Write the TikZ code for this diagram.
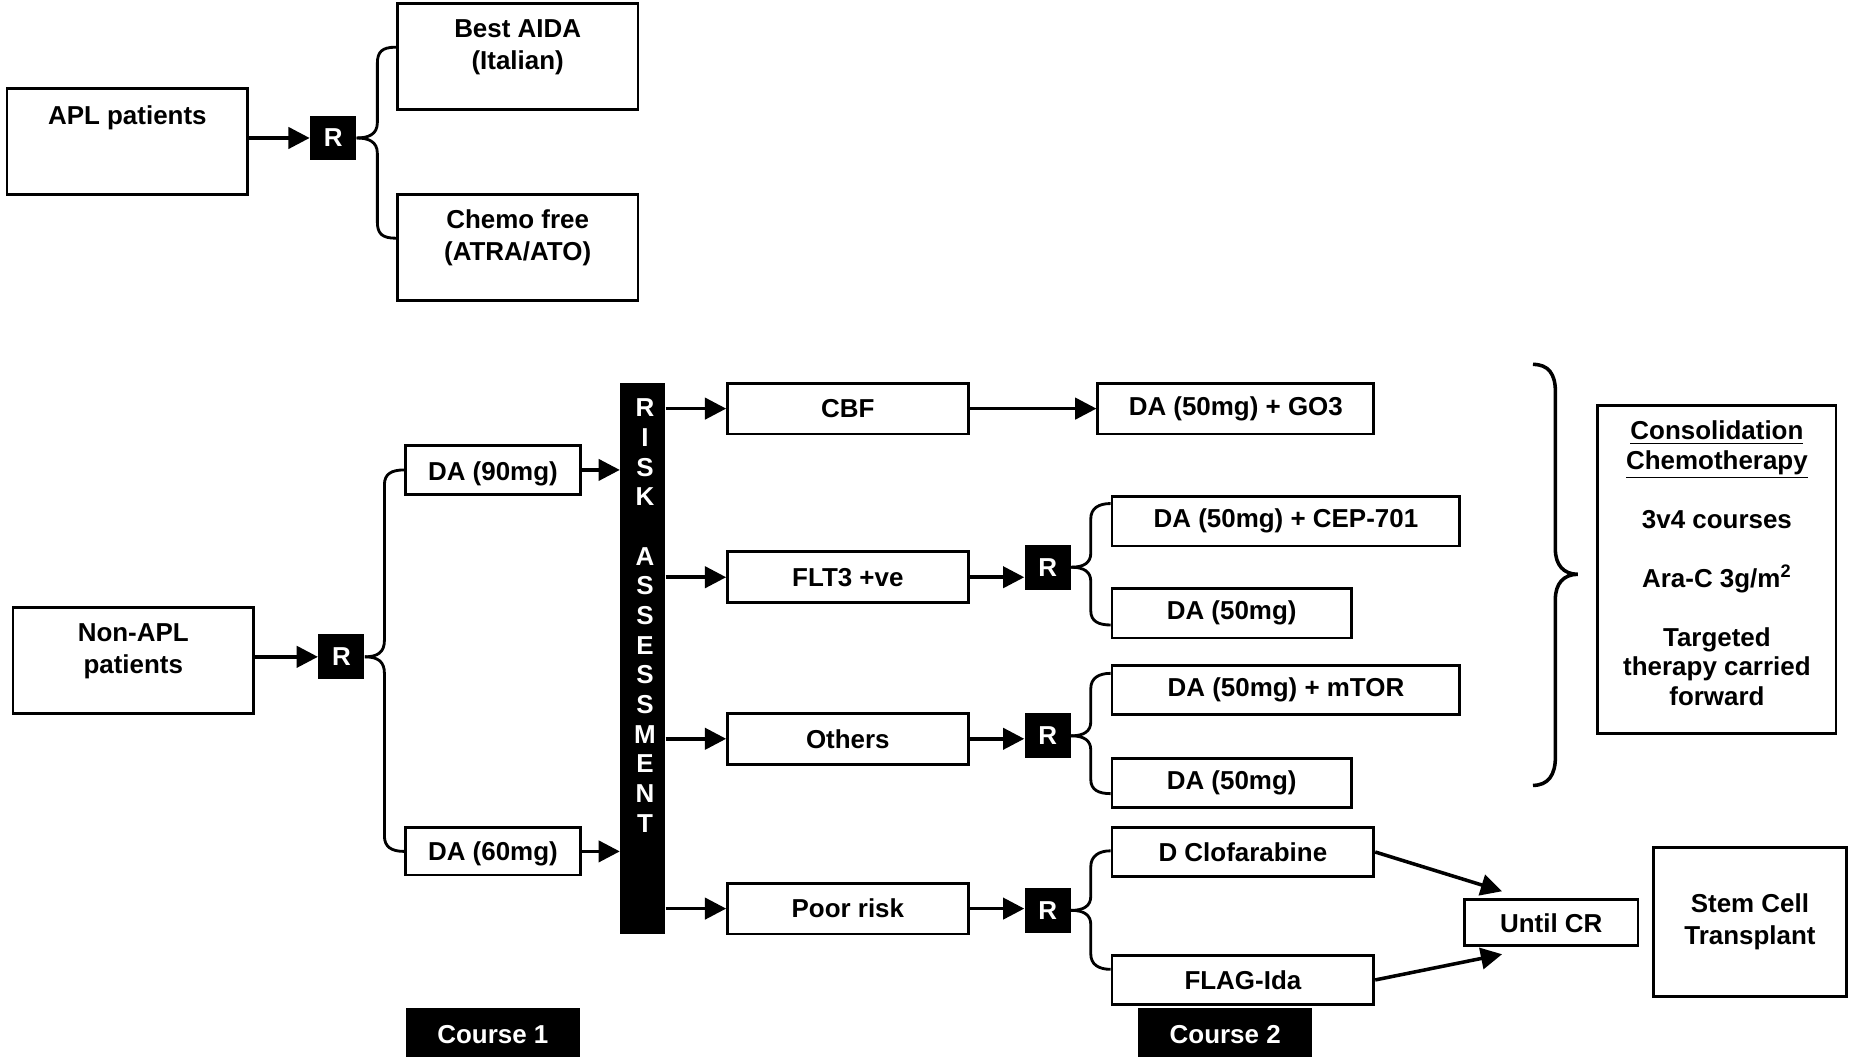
\documentclass[tikz,border=0pt]{standalone}
\usepackage{fontspec}
\setmainfont{Liberation Sans}
\usetikzlibrary{arrows.meta,calc}
\begin{document}
\begin{tikzpicture}[x=0.5pt,y=-0.5pt,
  every node/.append style={font=\fontsize{11}{13.5}\selectfont\bfseries},
  box/.style 2 args={draw,line width=1.2pt,minimum width=#1*0.5pt,minimum height=#2*0.5pt,inner sep=0pt,align=center},
  rbox/.style={fill=black,text=white,minimum width=19.5pt,minimum height=19pt,inner sep=0pt},
  blk/.style 2 args={fill=black,text=white,minimum width=#1*0.5pt,minimum height=#2*0.5pt,inner sep=0pt,align=center},
  arr/.style={line width=1.5pt,-{Triangle[length=9pt,width=9pt]}},
  conn/.style={line width=1.2pt}
]
\fill[white] (0,0) rectangle (1568,896);
\useasboundingbox (0,0) rectangle (1568,896);

% ---------- APL part ----------
\node[box={204}{90},label={[yshift=10pt]center:APL patients}] (apl) at (108,120) {};
\node[rbox] (r1) at (282.5,117) {R};
\node[box={204}{90},label={[yshift=4pt,align=center]center:Best AIDA\\(Italian)}] (ba) at (439,48) {};
\node[box={204}{90},label={[yshift=4.25pt,align=center]center:Chemo free\\(ATRA/ATO)}] (cf) at (439,210) {};

\draw[arr] (apl.east |- r1.west) -- (r1.west);
\draw[conn] (r1.east) .. controls +(10,0) and +(0,10) .. (320,104) -- (320,54)
  .. controls +(0,-10) and +(-12,0) .. ($(ba.west)+(0,-8)$);
\draw[conn] (r1.east) .. controls +(10,0) and +(0,-10) .. (320,130) -- (320,188)
  .. controls +(0,10) and +(-12,0) .. ($(cf.west)+(0,-8)$);

% ---------- Non-APL part ----------
\node[box={204}{90},label={[yshift=4pt,align=center]center:Non-APL\\patients}] (napl) at (113,560) {};
\node[rbox] (r2) at (289.5,557) {R};
\node[box={148}{41},label={[yshift=-1.5pt]center:DA (90mg)}] (da90) at (418,398.5) {};
\node[box={148}{40},label={[yshift=-1pt]center:DA (60mg)}] (da60) at (418,722) {};

\draw[arr] (napl.east |- r2.west) -- (r2.west);
\draw[conn] (r2.east) .. controls +(11,0) and +(0,10) .. (326,543) -- (326,411)
  .. controls +(0,-9) and +(-11,0) .. (da90.west);
\draw[conn] (r2.east) .. controls +(11,0) and +(0,-10) .. (326,571) -- (326,709)
  .. controls +(0,9) and +(-11,0) .. (da60.west);

% risk assessment bar
\node[fill=black,minimum width=19pt,minimum height=233.5pt,inner sep=0pt,
  label={[yshift=18.25pt,xshift=1pt,align=center,text=white,font=\fontsize{11}{12.57}\selectfont\bfseries]center:R\\I\\S\\K\\[12.57pt]A\\S\\S\\E\\S\\S\\M\\E\\N\\T}] (bar) at (545,558.5) {};

\draw[arr] (da90.east) -- (da90.east -| bar.west);
\draw[arr] (da60.east) -- (da60.east -| bar.west);

% risk groups
\node[box={204}{43}] (cbf) at (719,346.5) {CBF};
\node[box={204}{43}] (flt) at (719,489.5) {FLT3 +ve};
\node[box={204}{43}] (oth) at (719,626.5) {Others};
\node[box={204}{43}] (poor) at (719,770.5) {Poor risk};

\draw[arr] (bar.east |- cbf.west) -- (cbf.west);
\draw[arr] (bar.east |- flt.west) -- (flt.west);
\draw[arr] (bar.east |- oth.west) -- (oth.west);
\draw[arr] (bar.east |- poor.west) -- (poor.west);

% course 2 arms
\node[box={234}{43}] (go3) at (1048,346.5) {DA (50mg) + GO3};
\draw[arr] (cbf.east) -- (go3.west);

\node[rbox] (r3) at (888.5,481) {R};
\node[box={295}{42}] (cep) at (1090.5,442) {DA (50mg) + CEP-701};
\node[box={203}{42}] (da50a) at (1044.5,520) {DA (50mg)};
\draw[arr] (flt.east) -- (flt.east -| r3.west);
\draw[conn] (r3.east) .. controls +(11,0) and +(0,8) .. (925,469) -- (925,440)
  .. controls +(0,-9) and +(-10,0) .. ($(cep.west)+(0,-15)$);
\draw[conn] (r3.east) .. controls +(11,0) and +(0,-8) .. (925,493) -- (925,518)
  .. controls +(0,9) and +(-10,0) .. ($(da50a.west)+(0,10)$);

\node[rbox] (r4) at (888.5,624) {R};
\node[box={295}{42}] (mtor) at (1090.5,585) {DA (50mg) + mTOR};
\node[box={203}{42}] (da50b) at (1044.5,664) {DA (50mg)};
\draw[arr] (oth.east) -- (oth.east -| r4.west);
\draw[conn] (r4.east) .. controls +(11,0) and +(0,8) .. (925,612) -- (925,584)
  .. controls +(0,-9) and +(-10,0) .. ($(mtor.west)+(0,-14)$);
\draw[conn] (r4.east) .. controls +(11,0) and +(0,-8) .. (925,636) -- (925,661)
  .. controls +(0,9) and +(-10,0) .. ($(da50b.west)+(0,9)$);

\node[rbox] (r5) at (888.5,772) {R};
\node[box={222}{41}] (dclo) at (1054,722.5) {D Clofarabine};
\node[box={222}{42}] (flag) at (1054,831) {FLAG-Ida};
\draw[arr] (poor.east) -- (poor.east -| r5.west);
\draw[conn] (r5.east) .. controls +(11,0) and +(0,8) .. (925,760) -- (925,735)
  .. controls +(0,-9) and +(-10,0) .. ($(dclo.west)+(0,-1)$);
\draw[conn] (r5.east) .. controls +(11,0) and +(0,-8) .. (925,784) -- (925,809)
  .. controls +(0,9) and +(-10,0) .. ($(flag.west)+(0,-9)$);

\node[box={147}{39}] (ucr) at (1315.5,782.5) {Until CR};
\node[box={164}{126}] (stem) at (1484,782) {Stem Cell\\Transplant};
\draw[arr] (dclo.east) -- ($(ucr.north west)+(33,-6)$);
\draw[arr] (flag.east) -- ($(ucr.south west)+(33,6)$);

% consolidation
\draw[line width=1.5pt] (1300,309) .. controls (1313,309) and (1319,317) .. (1319,332) -- (1319,466)
  .. controls (1319,479) and (1326,487) .. (1338,487)
  .. controls (1326,487) and (1319,495) .. (1319,508) -- (1319,642)
  .. controls (1319,657) and (1313,666) .. (1300,666);
\node[box={202}{278},label={[yshift=2.75pt,align=center,font=\fontsize{11}{12.5}\selectfont\bfseries]center:\underline{Consolidation}\\\underline{Chemotherapy}\\[12.5pt]3v4 courses\\[12.5pt]Ara-C 3g/m\textsuperscript{2}\\[12.5pt]Targeted\\therapy carried\\forward}] (cons) at (1456,483) {};

% course labels
\node[blk={148}{44}] (c1) at (418,877) {Course 1};
\node[blk={148}{44}] (c2) at (1039,877) {Course 2};
\end{tikzpicture}
\end{document}
